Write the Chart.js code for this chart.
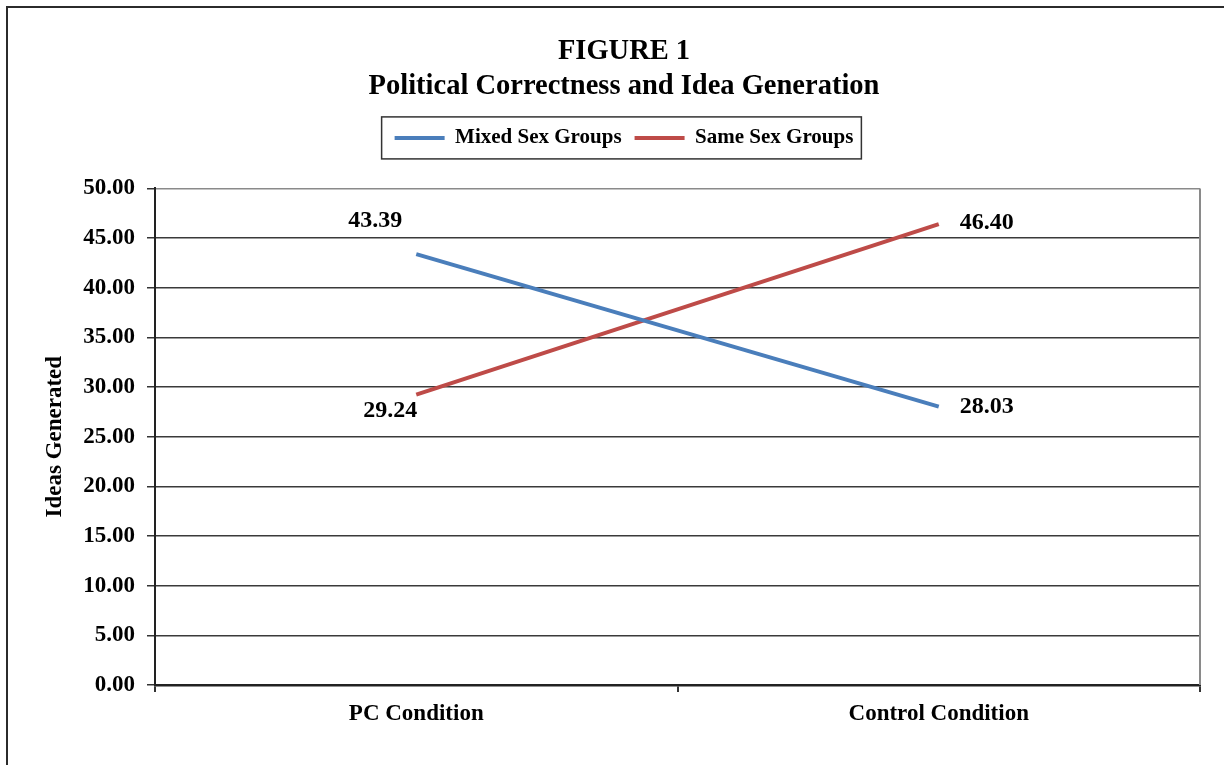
<!DOCTYPE html>
<html>
<head>
<meta charset="utf-8">
<title>Figure 1</title>
<script src="https://cdn.jsdelivr.net/npm/chart.js@4"></script>
<style>
    html, body { margin: 0; padding: 0; background: #fff; overflow: hidden; }
    #wrap { position: relative; width: 1224px; height: 765px; }
    #frame {
        position: absolute; left: 6px; top: 6px; width: 1400px; height: 900px;
        border: 2px solid #2b2b2b; pointer-events: none;
    }
</style>
</head>
<body>
<div id="wrap">
    <canvas id="chart" width="1224" height="765"></canvas>
    <div id="frame"></div>
</div>
<script>
// data
const CATEGORIES = ['PC Condition', 'Control Condition'];
const MIXED_SEX = [43.39, 28.03];
const SAME_SEX = [29.24, 46.40];
const Y_MIN = 0;
const Y_MAX = 50;
const Y_STEP = 5;

// where each value label sits relative to its point (px)
const labelOffsets = [
    [[-41, -33], [48, 0]],
    [[-26, 16], [48, -1]]
];

const SERIF = "'Liberation Serif', 'Times New Roman', serif";
Chart.defaults.font.family = SERIF;
Chart.defaults.font.weight = 'bold';
Chart.defaults.color = '#000';

// value labels next to the line ends
const valueLabels = {
    id: 'valueLabels',
    afterDatasetsDraw(chart) {
        const ctx = chart.ctx;
        ctx.save();
        ctx.font = 'bold 24px ' + SERIF;
        ctx.fillStyle = '#000';
        ctx.textAlign = 'center';
        ctx.textBaseline = 'middle';
        chart.data.datasets.forEach((ds, di) => {
            chart.getDatasetMeta(di).data.forEach((pt, i) => {
                const off = labelOffsets[di][i];
                ctx.fillText(ds.data[i].toFixed(2), pt.x + off[0], pt.y + off[1]);
            });
        });
        ctx.restore();
    }
};

// legend border and the grey plot-area edge on the right
const frames = {
    id: 'frames',
    afterDraw(chart) {
        const ctx = chart.ctx;
        const area = chart.chartArea;
        ctx.save();
        ctx.strokeStyle = '#8a8a8a';
        ctx.lineWidth = 2;
        ctx.beginPath();
        ctx.moveTo(area.right, area.top);
        ctx.lineTo(area.right, area.bottom);
        ctx.stroke();

        const boxes = chart.legend.legendHitBoxes;
        if (boxes && boxes.length) {
            const first = boxes[0];
            const last = boxes[boxes.length - 1];
            const left = first.left - 13;
            const right = last.left + last.width + 8;
            const top = first.top + first.height / 2 - 21;
            ctx.strokeStyle = '#333';
            ctx.lineWidth = 1.5;
            ctx.strokeRect(left, top, right - left, 42);
        }
        ctx.restore();
    }
};

new Chart(document.getElementById('chart'), {
    type: 'line',
    data: {
        labels: CATEGORIES,
        datasets: [
            {
                label: 'Mixed Sex Groups',
                data: MIXED_SEX,
                borderColor: '#4A7EBB',
                backgroundColor: '#4A7EBB',
                borderWidth: 4,
                pointRadius: 0,
                tension: 0
            },
            {
                label: 'Same Sex Groups',
                data: SAME_SEX,
                borderColor: '#BE4B48',
                backgroundColor: '#BE4B48',
                borderWidth: 4,
                pointRadius: 0,
                tension: 0
            }
        ]
    },
    options: {
        responsive: false,
        animation: false,
        layout: { padding: { left: 48, right: 24, top: 0, bottom: 0 } },
        plugins: {
            title: {
                display: true,
                text: ['FIGURE 1', 'Political Correctness and Idea Generation'],
                font: { size: 28.5, weight: 'bold', lineHeight: 1.2 },
                color: '#000',
                padding: { top: 35, bottom: 11 }
            },
            legend: {
                display: true,
                labels: {
                    usePointStyle: true,
                    pointStyle: 'line',
                    pointStyleWidth: 50,
                    padding: 13,
                    color: '#000',
                    font: { size: 21, weight: 'bold' }
                }
            },
            tooltip: { enabled: false }
        },
        scales: {
            x: {
                offset: true,
                grid: {
                    offset: true,
                    drawOnChartArea: false,
                    drawTicks: true,
                    tickLength: 7,
                    color: '#333',
                    lineWidth: 2
                },
                border: { display: true, color: '#222', width: 2.5 },
                ticks: { padding: 8, font: { size: 23, weight: 'bold' }, color: '#000' },
                afterFit(scale) { scale.height = 80; }
            },
            spacer: {
                axis: 'x',
                type: 'category',
                position: 'top',
                grid: { display: false },
                border: { display: false },
                ticks: { display: false },
                afterFit(scale) { scale.height = 30; }
            },
            y: {
                min: Y_MIN,
                max: Y_MAX,
                ticks: {
                    stepSize: Y_STEP,
                    padding: 12,
                    font: { size: 23, weight: 'bold' },
                    color: '#000',
                    callback: v => v.toFixed(2)
                },
                grid: {
                    color: c => (c.tick && c.tick.value === Y_MAX) ? '#8a8a8a' : '#3a3a3a',
                    tickColor: '#333',
                    lineWidth: 1.5,
                    tickLength: 8
                },
                border: { display: true, color: '#222', width: 2 },
                title: {
                    display: true,
                    text: 'Ideas Generated',
                    font: { size: 23, weight: 'bold' },
                    color: '#000',
                    padding: { top: -7, bottom: 4 }
                },
                afterFit(scale) { scale.width = 107; }
            }
        }
    },
    plugins: [valueLabels, frames]
});
</script>
</body>
</html>
